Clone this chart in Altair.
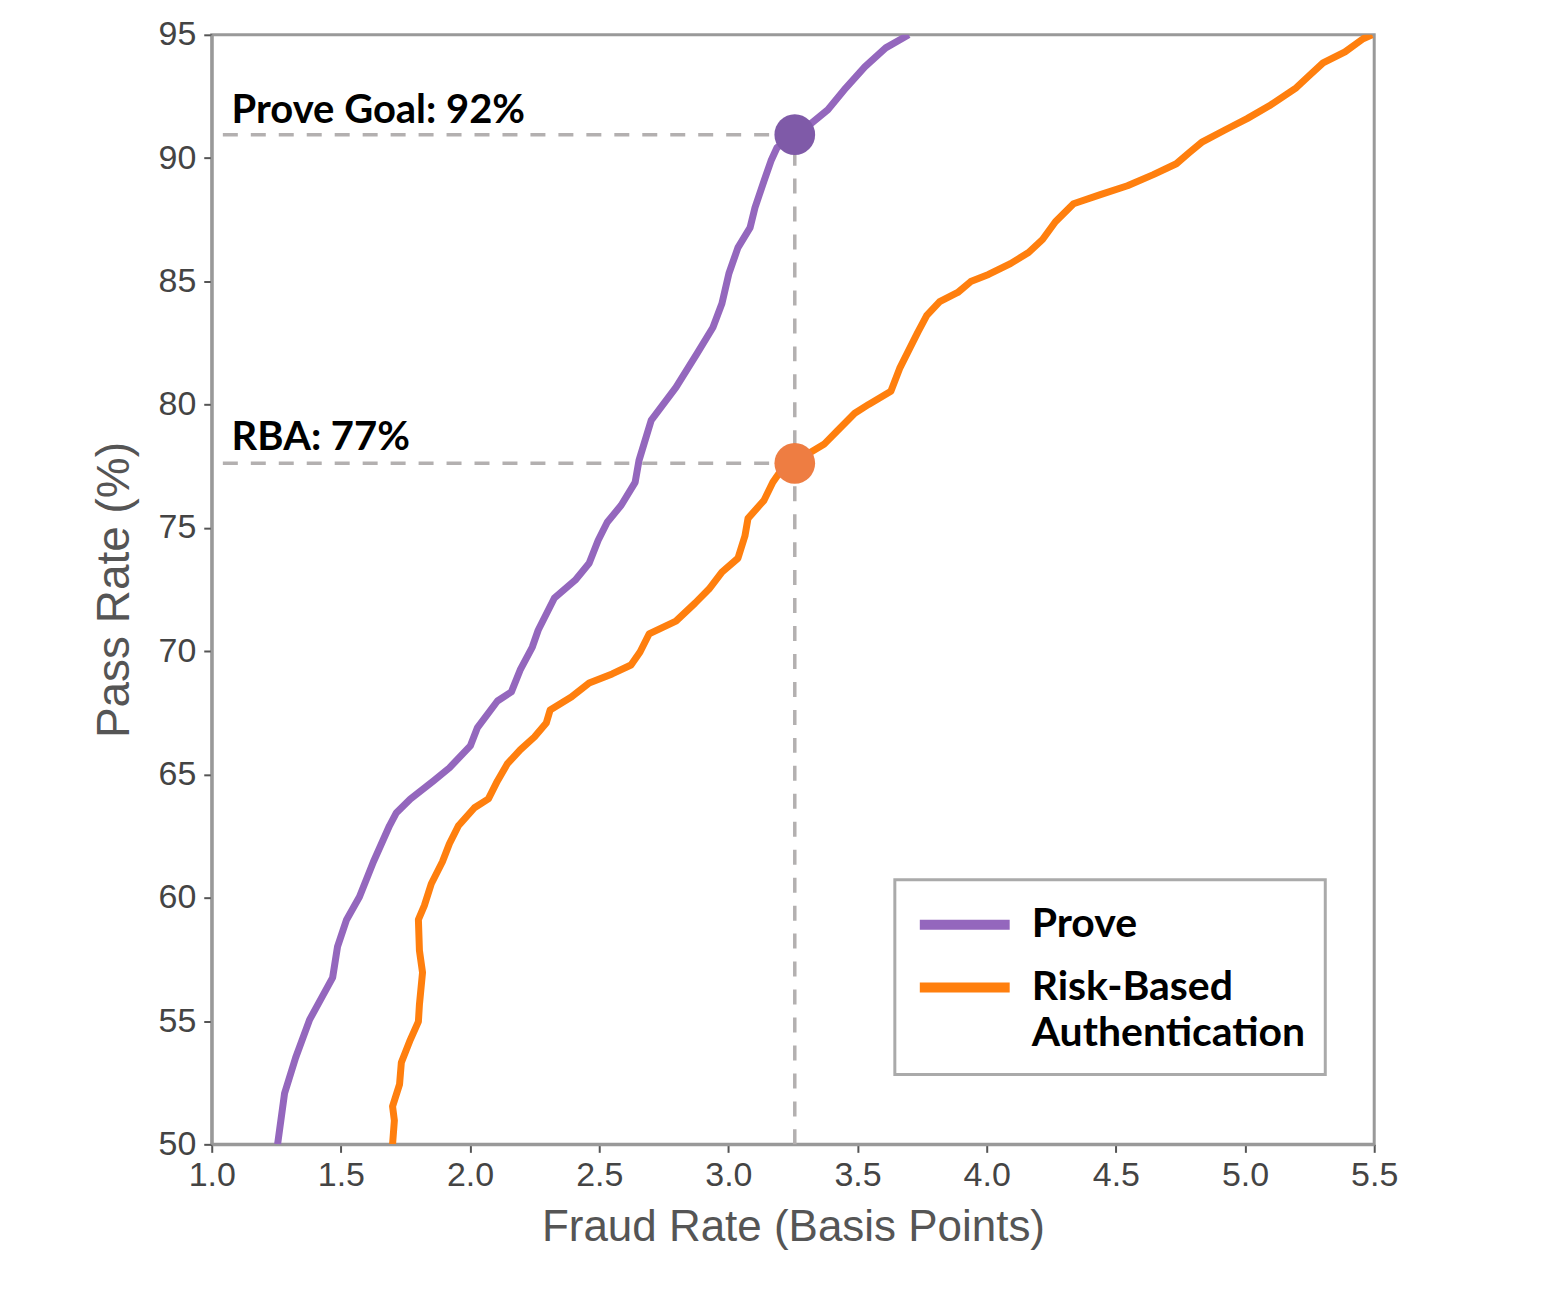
import altair as alt
import pandas as pd

# ---- data ----
purple_x = [1.255, 1.282, 1.325, 1.379, 1.468, 1.487, 1.522, 1.572, 1.626, 1.688, 1.715, 1.769,
            1.858, 1.920, 2.001, 2.028, 2.106, 2.160, 2.194, 2.241, 2.264, 2.326, 2.407, 2.461,
            2.496, 2.531, 2.585, 2.639, 2.654, 2.701, 2.797, 2.879, 2.940, 2.975, 3.002, 3.037,
            3.084, 3.103, 3.138, 3.165, 3.188, 3.254, 3.319, 3.385, 3.455, 3.528, 3.609, 3.698]
purple_y = [50.0, 52.07, 53.52, 55.06, 56.76, 58.02, 59.11, 60.04, 61.46, 62.92, 63.45, 64.01,
            64.74, 65.27, 66.16, 66.89, 67.98, 68.35, 69.24, 70.17, 70.86, 72.15, 72.88, 73.57,
            74.50, 75.23, 75.92, 76.85, 77.74, 79.36, 80.70, 82.08, 83.13, 84.10, 85.32, 86.37,
            87.18, 87.99, 89.08, 89.89, 90.42, 90.99, 91.39, 91.96, 92.85, 93.70, 94.47, 95.0]

orange_x = [1.700, 1.707, 1.700, 1.727, 1.734, 1.769, 1.800, 1.804, 1.816, 1.804, 1.800, 1.823,
            1.850, 1.893, 1.920, 1.955, 2.017, 2.071, 2.106, 2.144, 2.194, 2.249, 2.295, 2.310,
            2.392, 2.461, 2.550, 2.623, 2.658, 2.693, 2.797, 2.871, 2.925, 2.975, 3.037, 3.064,
            3.076, 3.138, 3.172, 3.207, 3.254, 3.370, 3.420, 3.489, 3.543, 3.629, 3.663, 3.698,
            3.733, 3.768, 3.818, 3.888, 3.938, 4.007, 4.092, 4.162, 4.216, 4.266, 4.336, 4.440,
            4.545, 4.645, 4.734, 4.784, 4.835, 4.924, 5.008, 5.094, 5.198, 5.252, 5.302, 5.387,
            5.457, 5.492]
orange_y = [50.0, 50.97, 51.54, 52.43, 53.32, 54.25, 54.98, 55.67, 56.97, 57.86, 59.11, 59.68,
            60.57, 61.46, 62.19, 62.92, 63.65, 64.01, 64.74, 65.43, 66.00, 66.52, 67.09, 67.62,
            68.14, 68.71, 69.08, 69.44, 69.97, 70.70, 71.22, 71.95, 72.52, 73.21, 73.77, 74.67,
            75.39, 76.12, 76.85, 77.38, 77.66, 78.39, 78.92, 79.65, 80.01, 80.54, 81.47, 82.20,
            82.93, 83.62, 84.18, 84.55, 84.99, 85.28, 85.72, 86.17, 86.70, 87.42, 88.15, 88.52,
            88.88, 89.33, 89.77, 90.22, 90.66, 91.15, 91.60, 92.12, 92.85, 93.38, 93.86, 94.31,
            94.84, 95.0]

series_names = ["Prove", "Risk-Based Authentication"]
line_colors = ["#9467bd", "#ff7f0e"]
dot_colors = ["#7f5aa8", "#ee7d42"]

goal_x = 3.257
goal_y = [90.95, 77.62]
guide_start_x = 1.043
y_floor = 50.0

note_texts = ["Prove Goal: 92%", "RBA: 77%"]
note_x = [1.077, 1.077]
note_y = [91.43, 78.15]

x_ticks = [1.0, 1.5, 2.0, 2.5, 3.0, 3.5, 4.0, 4.5, 5.0, 5.5]
y_ticks = [50, 55, 60, 65, 70, 75, 80, 85, 90, 95]

# ---- tables ----
lines_df = pd.DataFrame({
    "x": purple_x + orange_x,
    "y": purple_y + orange_y,
    "series": [series_names[0]] * len(purple_x) + [series_names[1]] * len(orange_x),
    "order": list(range(len(purple_x))) + list(range(len(orange_x))),
})
hrules_df = pd.DataFrame({"x": [guide_start_x] * 2, "x2": [goal_x] * 2, "y": goal_y})
vrule_df = pd.DataFrame({"x": [goal_x], "y": [y_floor], "y2": [goal_y[0]]})
dots_df = pd.DataFrame({"x": [goal_x] * 2, "y": goal_y, "c": dot_colors})
notes_df = pd.DataFrame({"x": note_x, "y": note_y, "text": note_texts})

xscale = alt.Scale(domain=[1.0, 5.5], nice=False, zero=False)
yscale = alt.Scale(domain=[50, 95], nice=False, zero=False)

axis_common = dict(grid=False, tickSize=8, tickWidth=2, tickColor="#555555",
                   domainColor="#999999", domainWidth=3,
                   labelFont="Liberation Sans", labelFontSize=34, labelColor="#444444",
                   titleFont="Liberation Sans", titleFontWeight="normal", titleColor="#555555",
                   labelFlush=False, labelOverlap=False)

x_axis = alt.Axis(title="Fraud Rate (Basis Points)", values=x_ticks, format=".1f",
                  labelPadding=6, titleFontSize=44, titlePadding=13, **axis_common)
y_axis = alt.Axis(title="Pass Rate (%)", values=y_ticks, format="d",
                  labelPadding=8, titleFontSize=46, titlePadding=20, **axis_common)

legend = alt.Legend(
    title=None, orient="none", legendX=684, legendY=846,
    symbolType="M-1,0H3.5", symbolSize=1600, symbolStrokeWidth=10,
    labelFont="Lato", labelFontWeight="bold", labelFontSize=41, labelColor="black",
    labelLimit=600, labelOffset=67, padding=20, rowPadding=18,
    strokeColor="#aaaaaa", fillColor="white",
    labelExpr="datum.label == 'Prove' ? 'Prove' : ['Risk-Based', 'Authentication']",
)

lines = alt.Chart(lines_df).mark_line(strokeWidth=7, clip=True, strokeJoin="round").encode(
    x=alt.X("x:Q", scale=xscale, axis=x_axis),
    y=alt.Y("y:Q", scale=yscale, axis=y_axis),
    color=alt.Color("series:N", scale=alt.Scale(domain=series_names, range=line_colors), legend=legend),
    order="order:Q",
)

dash = [15, 13]
hrules = alt.Chart(hrules_df).mark_rule(strokeDash=dash, strokeWidth=3.5, color="#b3b0b0").encode(
    x="x:Q", x2="x2:Q", y="y:Q")
vrule = alt.Chart(vrule_df).mark_rule(strokeDash=dash, strokeWidth=3.5, color="#b3b0b0").encode(
    x="x:Q", y="y:Q", y2="y2:Q")

dots = alt.Chart(dots_df).mark_circle(size=1660, opacity=1).encode(
    x="x:Q", y="y:Q", color=alt.Color("c:N", scale=None, legend=None))

notes = alt.Chart(notes_df).mark_text(
    align="left", baseline="alphabetic", font="Lato", fontWeight="bold", fontSize=40, color="black"
).encode(x="x:Q", y="y:Q", text="text:N")

chart = alt.layer(lines, hrules, vrule, dots, notes).properties(
    width=1164, height=1111,
    autosize=alt.AutoSizeParams(type="none"),
    padding={"left": 204, "top": 26, "right": 160, "bottom": 140},
).configure(
    style={"guide-label": alt.MarkConfig(lineHeight=47)},
    view=alt.ViewConfig(stroke="#999999", strokeWidth=3),
    legend=alt.LegendConfig(strokeWidth=3),
)

chart.save("out.html", embed_options={"renderer": "svg", "actions": False})
